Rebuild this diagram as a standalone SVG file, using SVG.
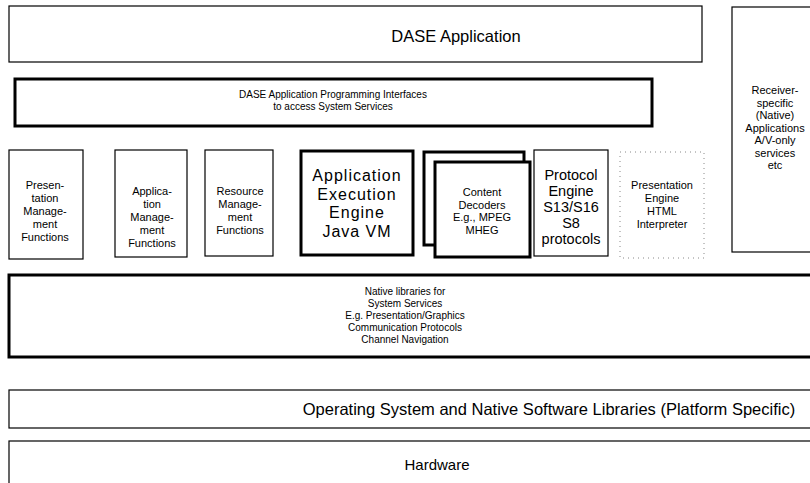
<svg xmlns="http://www.w3.org/2000/svg" width="810" height="483" viewBox="0 0 810 483">
<style>
.b{fill:#fff;stroke:#000;stroke-width:1.2}
.t{fill:#fff;stroke:#000;stroke-width:3}
.d{fill:none;stroke:#888;stroke-width:1;stroke-dasharray:1 4}
text{font-family:"Liberation Sans",Arial,sans-serif;fill:#000;text-anchor:middle}
.s{font-size:10px}
.n{font-size:11px}
.r{font-size:11px}
.m{font-size:16.5px}
.h{font-size:15px}
.l{font-size:16px;letter-spacing:1px}
.p{font-size:14.5px}
</style>
<rect width="810" height="483" fill="#fff"/>
<g id="dase-app"><rect class="b" x="9" y="6" width="693" height="56"/><text class="m" x="456" y="42">DASE Application</text></g>
<g id="api"><rect class="t" x="15" y="79" width="637" height="47"/><text class="s" x="333" y="98">DASE Application Programming Interfaces</text><text class="s" x="333" y="110">to access System Services</text></g>
<g id="receiver"><rect class="b" x="732" y="7" width="90" height="245"/><text class="r" x="775" y="94">Receiver-</text><text class="r" x="775" y="106.5">specific</text><text class="r" x="775" y="119">(Native)</text><text class="r" x="775" y="131.5">Applications</text><text class="r" x="775" y="144">A/V-only</text><text class="r" x="775" y="156.5">services</text><text class="r" x="775" y="169">etc</text></g>
<g id="pres-mgmt"><rect class="b" x="9" y="150" width="74" height="109"/><text class="n" x="45" y="189">Presen-</text><text class="n" x="45" y="202">tation</text><text class="n" x="45" y="215">Manage-</text><text class="n" x="45" y="228">ment</text><text class="n" x="45" y="241">Functions</text></g>
<g id="app-mgmt"><rect class="b" x="115" y="150" width="72" height="107"/><text class="n" x="152" y="195">Applica-</text><text class="n" x="152" y="208">tion</text><text class="n" x="152" y="221">Manage-</text><text class="n" x="152" y="234">ment</text><text class="n" x="152" y="247">Functions</text></g>
<g id="res-mgmt"><rect class="b" x="205" y="150" width="68" height="106"/><text class="n" x="240" y="195">Resource</text><text class="n" x="240" y="208">Manage-</text><text class="n" x="240" y="221">ment</text><text class="n" x="240" y="234">Functions</text></g>
<g id="aee"><rect class="t" x="301" y="151" width="112" height="104"/><text class="l" x="357" y="181">Application</text><text class="l" x="357" y="199.5">Execution</text><text class="l" x="357" y="218">Engine</text><text class="l" x="357" y="236.5">Java VM</text></g>
<g id="content-decoders"><rect class="t" x="424" y="152" width="100" height="93"/><rect class="t" x="435" y="162" width="95" height="95"/><text class="r" x="482" y="196">Content</text><text class="r" x="482" y="208.5">Decoders</text><text class="r" x="482" y="221">E.g., MPEG</text><text class="r" x="482" y="233.5">MHEG</text></g>
<g id="protocol"><rect class="b" x="534" y="150" width="74" height="106"/><text class="p" x="571" y="180">Protocol</text><text class="p" x="571" y="196">Engine</text><text class="p" x="571" y="212">S13/S16</text><text class="p" x="571" y="228">S8</text><text class="p" x="571" y="244">protocols</text></g>
<g id="pres-engine"><rect class="d" x="620" y="152" width="84" height="106"/><text class="r" x="662" y="189">Presentation</text><text class="r" x="662" y="202">Engine</text><text class="r" x="662" y="215">HTML</text><text class="r" x="662" y="228">Interpreter</text></g>
<g id="native"><rect class="t" x="9" y="275" width="812" height="82"/><text class="s" x="405" y="295">Native libraries for</text><text class="s" x="405" y="307">System Services</text><text class="s" x="405" y="319">E.g. Presentation/Graphics</text><text class="s" x="405" y="331">Communication Protocols</text><text class="s" x="405" y="343">Channel Navigation</text></g>
<g id="os"><rect class="b" x="9" y="390" width="812" height="38"/><text class="m" x="549" y="415">Operating System and Native Software Libraries (Platform Specific)</text></g>
<g id="hardware"><rect class="b" x="9" y="441" width="812" height="60"/><text class="h" x="437" y="470">Hardware</text></g>
<g id="connectors"></g>
</svg>
